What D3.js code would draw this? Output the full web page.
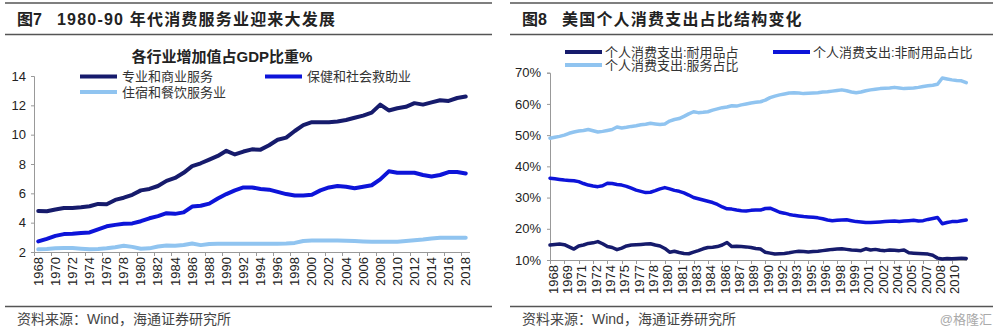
<!DOCTYPE html>
<html><head><meta charset="utf-8">
<script src="https://cdn.jsdelivr.net/npm/d3@7/dist/d3.min.js"></script>
<style>
html,body{margin:0;padding:0;background:#fff;}
svg{display:block;}
text{font-family:"Liberation Sans",Arial,"Noto Sans CJK SC",sans-serif;}
.cjk{font-family:"Liberation Sans",Arial,"Noto Sans CJK SC",sans-serif;}
</style></head>
<body>
<svg id="c" width="1000" height="334"></svg>
<script>
// ---------- LEFT CHART DATA (annual, % of GDP) ----------
const leftYears = [1968,1969,1970,1971,1972,1973,1974,1975,1976,1977,1978,1979,1980,1981,1982,1983,1984,1985,1986,1987,1988,1989,1990,1991,1992,1993,1994,1995,1996,1997,1998,1999,2000,2001,2002,2003,2004,2005,2006,2007,2008,2009,2010,2011,2012,2013,2014,2015,2016,2017,2018];
const profBusiness = [4.80,4.78,4.90,5.00,5.00,5.05,5.12,5.28,5.25,5.55,5.70,5.90,6.20,6.30,6.50,6.85,7.05,7.40,7.85,8.05,8.30,8.55,8.90,8.65,8.85,9.00,8.98,9.28,9.65,9.80,10.25,10.65,10.85,10.85,10.85,10.90,11.00,11.15,11.30,11.50,12.05,11.65,11.80,11.90,12.15,12.05,12.20,12.35,12.30,12.50,12.60];
const healthSocial = [2.72,2.90,3.10,3.22,3.25,3.30,3.33,3.55,3.75,3.85,3.92,3.95,4.10,4.30,4.45,4.65,4.60,4.70,5.10,5.15,5.30,5.65,5.95,6.20,6.40,6.40,6.30,6.25,6.10,5.95,5.85,5.85,5.90,6.20,6.40,6.50,6.45,6.35,6.45,6.55,6.95,7.50,7.40,7.40,7.40,7.25,7.15,7.25,7.45,7.45,7.35];
const accomFood = [2.18,2.20,2.25,2.27,2.27,2.22,2.18,2.20,2.25,2.32,2.42,2.35,2.22,2.25,2.38,2.45,2.42,2.48,2.58,2.47,2.55,2.57,2.57,2.57,2.57,2.57,2.57,2.57,2.57,2.58,2.62,2.75,2.78,2.78,2.78,2.78,2.77,2.75,2.72,2.70,2.70,2.70,2.70,2.75,2.80,2.85,2.92,2.97,2.98,2.98,2.98];
const leftYTicks = [2,4,6,8,10,12,14];
const leftSeriesNames = ["专业和商业服务","保健和社会救助业","住宿和餐饮服务业"];

// ---------- RIGHT CHART DATA (semi-annual, % of PCE) ----------
const rightYears = [1968,1969,1970,1971,1972,1973,1974,1975,1976,1977,1978,1979,1980,1981,1982,1983,1984,1985,1986,1987,1988,1989,1990,1991,1992,1993,1994,1995,1996,1997,1998,1999,2000,2001,2002,2003,2004,2005,2006,2007,2008,2009,2010,2011];
const durables = [
14.8,15.0, 15.1,14.9, 14.2,13.5, 14.5,14.8, 15.3,15.5, 15.9,15.2, 14.3,14.0, 13.3,13.8, 14.5,14.8, 14.9,15.0,
15.1,15.2, 14.8,14.5, 13.7,12.5, 12.8,12.4, 12.1,12.0, 12.5,13.0, 13.6,14.0, 14.1,14.3, 14.8,15.6, 14.3,14.4,
14.3,14.2, 14.0,13.7, 13.5,12.5, 12.2,11.9, 12.0,12.1, 12.3,12.6, 12.8,12.7, 12.6,12.7, 12.8,13.0, 13.2,13.4,
13.5,13.6, 13.4,13.2, 13.1,13.0, 13.6,13.2, 13.4,13.1, 13.0,13.2, 13.1,13.0, 13.2,12.3, 12.2,12.1, 12.0,11.9,
11.5,10.6, 10.3,10.5, 10.4,10.5, 10.6,10.5];
const nondurables = [
36.2,36.0, 35.8,35.6, 35.5,35.4, 35.1,34.5, 34.0,33.7, 33.5,33.8, 34.6,34.5, 34.2,34.0, 33.6,33.0, 32.4,32.0,
31.6,31.7, 32.2,32.8, 33.2,32.8, 32.3,32.0, 31.5,30.8, 30.0,29.6, 29.2,28.8, 28.4,27.8, 27.0,26.4, 26.3,26.0,
25.8,25.7, 25.9,26.0, 26.0,26.5, 26.6,26.0, 25.3,25.0, 24.6,24.3, 24.1,23.9, 23.8,23.7, 23.5,23.2, 22.8,22.6,
22.7,22.8, 22.9,22.6, 22.3,22.2, 22.0,22.0, 22.1,22.2, 22.3,22.4, 22.5,22.3, 22.5,22.6, 22.7,22.5, 22.6,23.0,
23.3,23.6, 21.6,22.0, 22.3,22.3, 22.6,22.8];
const services = [
49.0,49.3, 49.6,50.0, 50.6,51.0, 51.3,51.5, 51.8,51.4, 51.0,51.2, 51.5,51.8, 52.6,52.3, 52.5,52.8, 53.0,53.3,
53.5,53.8, 53.6,53.4, 53.6,54.5, 55.0,55.3, 56.0,56.8, 57.5,57.2, 57.3,57.5, 58.0,58.4, 58.8,59.0, 59.4,59.3,
59.7,60.0, 60.3,60.5, 60.7,61.2, 62.0,62.5, 62.9,63.2, 63.5,63.6, 63.5,63.3, 63.4,63.5, 63.6,63.8, 63.9,64.1,
64.3,64.5, 64.2,63.8, 63.6,63.8, 64.2,64.5, 64.7,64.9, 65.0,65.1, 65.3,65.1, 64.9,65.0, 65.1,65.3, 65.6,65.8,
66.0,66.3, 68.3,68.0, 67.7,67.5, 67.4,66.8];
const rightTickDates = ["1968-01","1969-07","1971-01","1972-07","1974-01","1975-07","1977-01","1978-07","1980-01","1981-07","1983-01","1984-07","1986-01","1987-07","1989-01","1990-07","1992-01","1993-07","1995-01","1996-07","1998-01","1999-07","2001-01","2002-07","2004-01","2005-07","2007-01","2008-07","2010-01"];
const rightYTicks = [10,20,30,40,50,60,70];
const rightSeriesNames = ["个人消费支出:耐用品占","个人消费支出:非耐用品占比","个人消费支出:服务占比"];

const NAVY = "#161b6c", BLUE = "#0d14d9", LIGHT = "#90c4f0";
const svg = d3.select("#c");

// ---------- headers / footers ----------
function frame(x0, x1, fig, title, extra) {
  svg.append("line").attr("x1",x0).attr("x2",x1).attr("y1",3).attr("y2",3).attr("stroke","#555").attr("stroke-width",1.5);
  svg.append("line").attr("x1",x0).attr("x2",x1).attr("y1",34.5).attr("y2",34.5).attr("stroke","#555").attr("stroke-width",1.5);
  svg.append("line").attr("x1",x0).attr("x2",x1).attr("y1",306.5).attr("y2",306.5).attr("stroke","#555").attr("stroke-width",1.5);
  svg.append("text").attr("x",x0+12).attr("y",25).attr("font-size",16).attr("font-weight","bold").attr("fill","#222").text(fig);
  svg.append("text").attr("x",x0+12+extra).attr("y",25).attr("font-size",16).attr("font-weight","bold").attr("fill","#222").attr("letter-spacing",1.2).text(title);
  svg.append("text").attr("x",x0+12).attr("y",324).attr("font-size",14).attr("fill","#444").text("资料来源：Wind，海通证券研究所");
}
frame(5, 492, "图7", "1980-90 年代消费服务业迎来大发展", 40);
frame(510, 993, "图8", "美国个人消费支出占比结构变化", 40);
svg.append("text").attr("x",992).attr("y",324).attr("text-anchor","end").attr("font-size",13).attr("fill","#aaa").text("@格隆汇");

// ---------- LEFT CHART ----------
const lx = d3.scaleBand().domain(leftYears).range([34, 470]).padding(0);
const ly = d3.scaleLinear().domain([2, 14]).range([252, 76]);
const gL = svg.append("g");

gL.append("text").attr("x",222).attr("y",62).attr("text-anchor","middle").attr("font-size",15).attr("font-weight","bold").attr("fill","#222").text("各行业增加值占GDP比重%");

// y axis
const lyAxis = d3.axisLeft(ly).tickValues(leftYTicks).tickSize(3).tickPadding(5);
const gly = gL.append("g").attr("transform","translate(34,0)").call(lyAxis);
gly.select(".domain").attr("stroke","#999");
gly.selectAll(".tick line").attr("stroke","#999");
gly.selectAll("text").attr("font-size",13).attr("fill","#222").attr("font-family","Liberation Sans, Arial, sans-serif");

// x axis: ticks at band boundaries every 2 years, labels at band centers every 2 years
gL.append("line").attr("x1",34).attr("x2",470).attr("y1",252.5).attr("y2",252.5).attr("stroke","#999");
const evenYears = leftYears.filter((d,i)=>i%2===0);
gL.selectAll(".lxt").data(evenYears).join("line")
  .attr("x1",d=>Math.round(lx(d))+0.5).attr("x2",d=>Math.round(lx(d))+0.5)
  .attr("y1",252).attr("y2",256).attr("stroke","#999");
gL.selectAll(".lxl").data(evenYears).join("text")
  .attr("transform",d=>`translate(${lx(d)+lx.bandwidth()/2+4.5},257) rotate(-90)`)
  .attr("text-anchor","end").attr("font-size",13).attr("fill","#222")
  .attr("font-family","Liberation Sans, Arial, sans-serif").text(d=>d);

const lineL = vals => d3.line().x((d,i)=>lx(leftYears[i])+lx.bandwidth()/2).y(d=>ly(d))(vals);
[[accomFood,LIGHT],[healthSocial,BLUE],[profBusiness,NAVY]].forEach(([v,c])=>{
  gL.append("path").attr("d",lineL(v)).attr("fill","none").attr("stroke",c).attr("stroke-width",4).attr("stroke-linejoin","round").attr("stroke-linecap","round");
});

// legend
const legL = [[80,76.5,NAVY,leftSeriesNames[0]],[265,76.5,BLUE,leftSeriesNames[1]],[80,92,LIGHT,leftSeriesNames[2]]];
legL.forEach(([x,y,c,t])=>{
  gL.append("line").attr("x1",x).attr("x2",x+37).attr("y1",y).attr("y2",y).attr("stroke",c).attr("stroke-width",4);
  gL.append("text").attr("x",x+42).attr("y",y+4.5).attr("font-size",13).attr("fill","#333").attr("font-family","Noto Sans CJK SC, sans-serif").text(t);
});

// ---------- RIGHT CHART ----------
const rightPeriods = rightYears.flatMap(y=>[y+"-01", y+"-07"]);
const toYear = s => { const [y,m]=s.split("-").map(Number); return y+(m-1)/12; };
const rx = d3.scaleLinear().domain([1968, 2011.58]).range([550, 967]);
const ry = d3.scaleLinear().domain([10, 70]).range([260, 72.7]);
const gR = svg.append("g");

const ryAxis = d3.axisLeft(ry).tickValues(rightYTicks).tickSize(3).tickPadding(6).tickFormat(d=>d+"%");
const gry = gR.append("g").attr("transform","translate(550,0)").call(ryAxis);
gry.select(".domain").attr("stroke","#999");
gry.selectAll(".tick line").attr("stroke","#999");
gry.selectAll("text").attr("font-size",13).attr("fill","#222").attr("font-family","Liberation Sans, Arial, sans-serif");

gR.append("line").attr("x1",550).attr("x2",967).attr("y1",260.5).attr("y2",260.5).attr("stroke","#999");
gR.selectAll(".rxt").data(rightTickDates).join("line")
  .attr("x1",d=>Math.round(rx(toYear(d)))+0.5).attr("x2",d=>Math.round(rx(toYear(d)))+0.5)
  .attr("y1",260).attr("y2",264).attr("stroke","#999");
gR.selectAll(".rxl").data(rightTickDates).join("text")
  .attr("transform",d=>`translate(${rx(toYear(d))+7.5},265) rotate(-90)`)
  .attr("text-anchor","end").attr("font-size",13).attr("fill","#222")
  .attr("font-family","Liberation Sans, Arial, sans-serif").text(d=>d.slice(0,4));

const lineR = vals => d3.line().x((d,i)=>rx(toYear(rightPeriods[i]))).y(d=>ry(d))(vals);
[[services,LIGHT],[nondurables,BLUE],[durables,NAVY]].forEach(([v,c])=>{
  gR.append("path").attr("d",lineR(v)).attr("fill","none").attr("stroke",c).attr("stroke-width",3.5).attr("stroke-linejoin","round").attr("stroke-linecap","round");
});

const legR = [[565,52,NAVY,rightSeriesNames[0]],[773,52,BLUE,rightSeriesNames[1]],[565,65,LIGHT,rightSeriesNames[2]]];
legR.forEach(([x,y,c,t])=>{
  gR.append("line").attr("x1",x).attr("x2",x+37).attr("y1",y).attr("y2",y).attr("stroke",c).attr("stroke-width",4);
  gR.append("text").attr("x",x+40).attr("y",y+4.5).attr("font-size",13).attr("fill","#333").attr("font-family","Noto Sans CJK SC, sans-serif").text(t);
});
</script>
</body></html>
